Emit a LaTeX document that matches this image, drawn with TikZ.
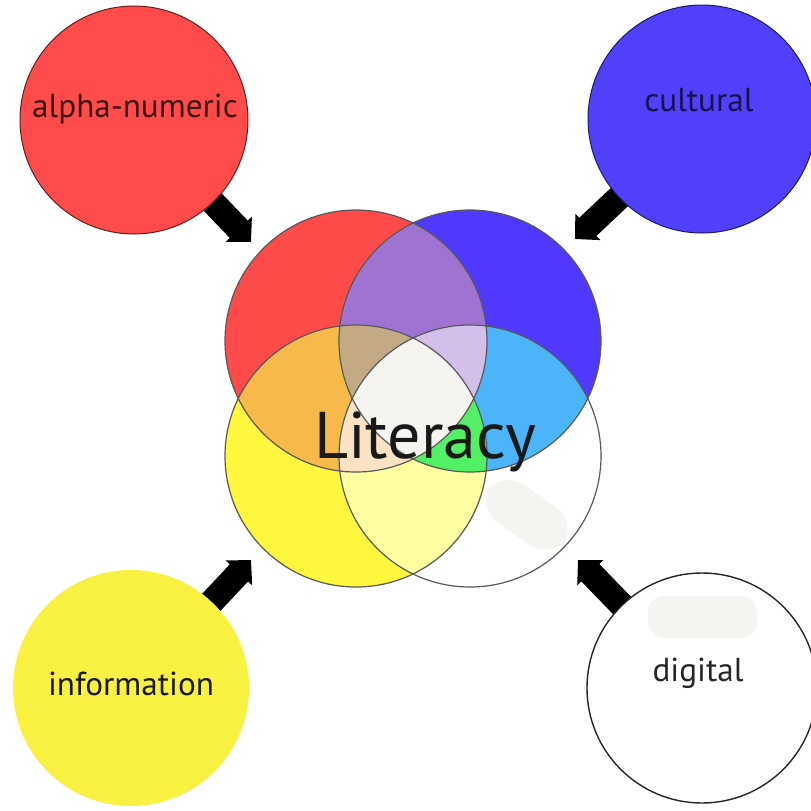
\documentclass[tikz,border=0pt]{standalone}
\usepackage{fontspec}
\setmainfont{PT Sans}
\usetikzlibrary{arrows.meta,backgrounds,positioning}

\definecolor{alphared}{HTML}{FF4B4B}
\definecolor{cultblue}{HTML}{5040FB}
\definecolor{infoyellow}{HTML}{F9F142}
\definecolor{vred}{HTML}{FF4A4A}
\definecolor{vblue}{HTML}{5038FF}
\definecolor{vyellow}{HTML}{FFF63E}
\definecolor{rb}{HTML}{A073D2}
\definecolor{ry}{HTML}{F8B94B}
\definecolor{bw}{HTML}{4BB4FA}
\definecolor{yw}{HTML}{FFFFA2}
\definecolor{rby}{HTML}{C3AA84}
\definecolor{rbw}{HTML}{D3BFEA}
\definecolor{byw}{HTML}{52F064}
\definecolor{ryw}{HTML}{FBE2C4}
\definecolor{core}{HTML}{F5F4F0}
\definecolor{smudge}{HTML}{F5F4F0}

\tikzset{
  bubble/.style={circle,inner sep=0pt,minimum size=#1},
  tag/.style={font=\fontsize{16.6}{19}\selectfont},
  push/.style={line width=12.5pt,-{Triangle[angle=90:12.5pt]}},
}

\begin{document}
\begin{tikzpicture}[x=0.5pt,y=-0.5pt]
   \useasboundingbox (0,0) rectangle (811,811);
   \def\vr{131}

   % outer circles
   \node[bubble=114pt,fill=alphared,draw=alphared!40!black,line width=0.5pt] (alpha) at (134,120) {};
   \node[bubble=114pt,fill=cultblue,draw=cultblue!40!black,line width=0.5pt] (cultural) at (702,119) {};
   \node[bubble=118pt,fill=infoyellow] (info) at (131,688) {};
   \node[bubble=115pt,fill=white,draw=black!85,line width=0.7pt] (digital) at (702,688) {};
   \fill[smudge,rounded corners=8pt] (648,596) rectangle (757,638);

   \node[tag,text=alphared!25!black] (alphatext) at (135,109) {alpha-numeric};
   \node[tag,text=cultblue!30!black] (culttext) at (699,100) {cultural};
   \node[tag,text=black!90] (infotext) at (131,684) {information};
   \node[tag,text=black!85] (digitext) at (698,673) {digital};

   % arrows
   \coordinate (tipA) at (251,242);
   \coordinate (tipC) at (575,239);
   \coordinate (tipI) at (251,560);
   \coordinate (tipD) at (578,560);
   \begin{scope}[on background layer]
      \draw[push] (alpha.center) -- (tipA);
      \draw[push] (cultural.center) -- (tipC);
      \draw[push] (info.center) -- (tipI);
      \draw[push] (digital.center) -- (tipD);
   \end{scope}

   % venn
   \coordinate (cR) at (356,341);
   \coordinate (cB) at (470,341);
   \coordinate (cY) at (356,456);
   \coordinate (cW) at (470,456);
   \fill[vred] (cR) circle (\vr);
   \fill[vblue] (cB) circle (\vr);
   \fill[vyellow] (cY) circle (\vr);
   \fill[white] (cW) circle (\vr);
   \fill[smudge,rotate around={-35:(527,515)},rounded corners=14pt] (480,492) rectangle (574,538);
   \foreach \a/\b/\c in {cR/cB/rb, cR/cY/ry, cB/cW/bw, cY/cW/yw} {
      \begin{scope}
         \clip (\a) circle (\vr);
         \fill[\c] (\b) circle (\vr);
      \end{scope}
   }
   \foreach \a/\b/\c/\d in {cR/cB/cY/rby, cR/cB/cW/rbw, cB/cY/cW/byw, cR/cY/cW/ryw} {
      \begin{scope}
         \clip (\a) circle (\vr);
         \clip (\b) circle (\vr);
         \fill[\d] (\c) circle (\vr);
      \end{scope}
   }
   \begin{scope}
      \clip (cR) circle (\vr);
      \clip (cB) circle (\vr);
      \clip (cY) circle (\vr);
      \fill[core] (cW) circle (\vr);
   \end{scope}
   \foreach \c in {cR,cB,cY,cW}
      \draw[black!65,line width=0.6pt] (\c) circle (\vr);

   \node[font=\fontsize{33}{38}\selectfont,text=black!90] (literacy) at (425,442) {Literacy};
\end{tikzpicture}
\end{document}
